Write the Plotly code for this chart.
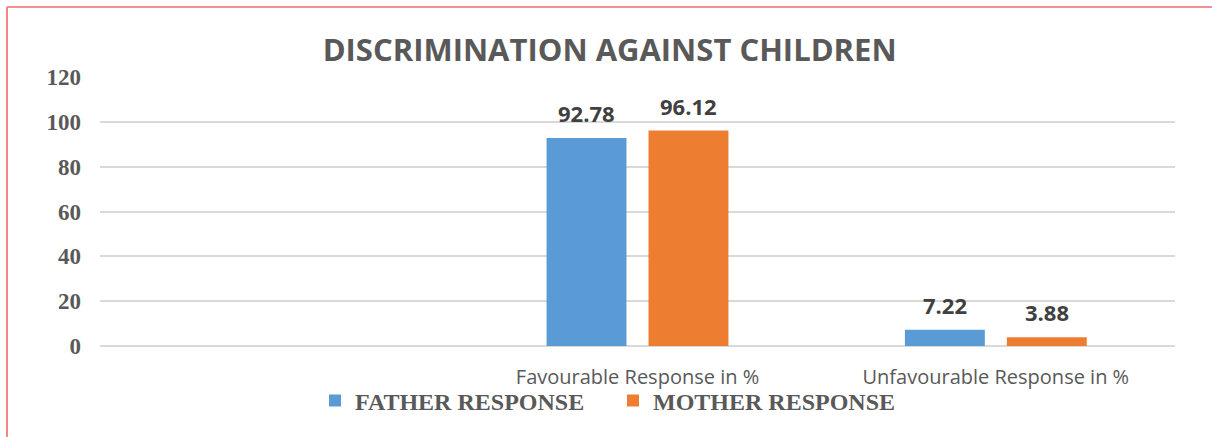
import plotly.graph_objects as go

# Chart data
categories = ["", "Favourable Response in %", "Unfavourable Response in %"]
father_response = [None, 92.78, 7.22]
mother_response = [None, 96.12, 3.88]
series_names = ["FATHER RESPONSE", "MOTHER RESPONSE"]
y_ticks = [0, 20, 40, 60, 80, 100, 120]

BLUE = "#5b9bd5"
ORANGE = "#ed7d31"
BAR_GAP = 0.431
GROUP_GAP = 0.216

fig = go.Figure()
fig.add_trace(go.Bar(name=series_names[0], x=categories, y=father_response,
                     marker=dict(color=BLUE, line=dict(width=0))))
fig.add_trace(go.Bar(name=series_names[1], x=categories, y=mother_response,
                     marker=dict(color=ORANGE, line=dict(width=0))))

# value labels above each bar
half_slot = (1 - BAR_GAP) / 4
annotations = []
for series, shift in ((father_response, -half_slot), (mother_response, half_slot)):
    for i, v in enumerate(series):
        if v is None:
            continue
        annotations.append(dict(
            x=i + shift, y=v, xref="x", yref="y", text=f"{v:.2f}",
            showarrow=False, yanchor="bottom", yshift=8,
            font=dict(family="Open Sans", size=22, color="#404040", weight="bold"),
        ))

fig.update_layout(
    width=1212, height=437,
    margin=dict(l=100, r=37, t=77, b=91),
    paper_bgcolor="white", plot_bgcolor="white",
    barmode="group", bargap=BAR_GAP, bargroupgap=GROUP_GAP,
    title=dict(text="DISCRIMINATION AGAINST CHILDREN", x=0.503, xanchor="center",
               y=0.885, yanchor="middle",
               font=dict(family="Open Sans", size=31, color="#595959", weight="bold")),
    legend=dict(orientation="h", x=0.2, xanchor="left", y=-0.204, yanchor="middle",
                bgcolor="rgba(0,0,0,0)",
                font=dict(family="Liberation Serif", size=24, color="#595959", weight="bold"),
                itemwidth=30, traceorder="normal", entrywidth=253, entrywidthmode="pixels"),
    annotations=annotations,
    shapes=[
        dict(type="line", xref="paper", yref="paper", x0=-0.0865, x1=1.05, y0=1.26, y1=1.26,
             line=dict(color="#ef6b6b", width=1.5)),
        dict(type="line", xref="paper", yref="paper", x0=-0.0865, x1=-0.0865, y0=1.26, y1=-0.4,
             line=dict(color="#f48585", width=2)),
    ],
)

fig.update_xaxes(
    type="category", showgrid=False, showline=False, ticks="",
    tickfont=dict(family="Open Sans", size=20, color="#595959"),
    ticklabelstandoff=17,
)
fig.update_yaxes(
    range=[0, 120], tickvals=y_ticks, showgrid=True, gridcolor="#d9d9d9", gridwidth=1.5,
    zeroline=True, zerolinecolor="#d9d9d9", zerolinewidth=1.5, showline=False, ticks="",
    tickfont=dict(family="Liberation Serif", size=23, color="#595959", weight="bold"),
    ticklabelstandoff=18,
)

fig.write_html("out.html")
